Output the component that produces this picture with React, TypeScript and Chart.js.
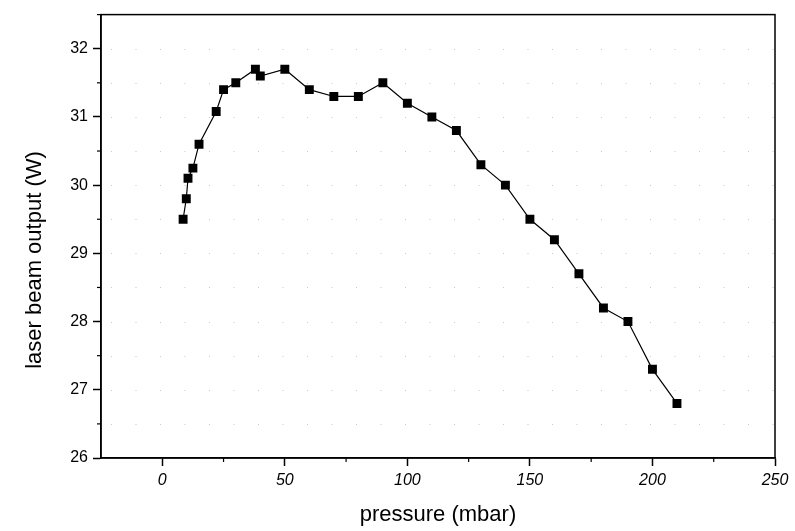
import React, { useEffect, useRef } from "react";
import { Chart, registerables } from "chart.js";

Chart.register(...registerables);

const pressure = [8.5, 9.8, 10.5, 12.5, 15, 22, 25, 30, 38, 40, 50, 60, 70, 80, 90, 100, 110, 120, 130, 140, 150, 160, 170, 180, 190, 200, 210];
const output = [29.5, 29.8, 30.1, 30.25, 30.6, 31.08, 31.4, 31.5, 31.7, 31.6, 31.7, 31.4, 31.3, 31.3, 31.5, 31.2, 31.0, 30.8, 30.3, 30.0, 29.5, 29.2, 28.7, 28.2, 28.0, 27.3, 26.8];
const xTicks = [0, 50, 100, 150, 200, 250];
const yTicks = [26, 27, 28, 29, 30, 31, 32];
const xMinor = [25, 75, 125, 175, 225];
const yMinor = [26.5, 27.5, 28.5, 29.5, 30.5, 31.5, 32.5];
const yGrid = [26.5, 27, 27.5, 28, 28.5, 29, 29.5, 30, 30.5, 31, 31.5, 32];
const xTitle = "pressure (mbar)";
const yTitle = "laser beam output (W)";

const FONT = "'Liberation Sans', Arial, sans-serif";

const framePlugin = {
  id: "frame",
  beforeDatasetsDraw(chart: any) {
    const { ctx, chartArea: a, scales } = chart;
    const y = scales.y;
    ctx.save();
    ctx.strokeStyle = "rgba(0,0,0,0.22)";
    ctx.lineWidth = 1;
    ctx.setLineDash([1, 23.5]);
    for (const v of yGrid) {
      const py = Math.round(y.getPixelForValue(v)) + 0.5;
      ctx.beginPath();
      ctx.moveTo(a.left + 10, py);
      ctx.lineTo(a.right, py);
      ctx.stroke();
    }
    ctx.restore();
  },
  afterDraw(chart: any) {
    const { ctx, chartArea: a, scales } = chart;
    const x = scales.x, y = scales.y;
    ctx.save();
    ctx.strokeStyle = "#000";
    ctx.lineWidth = 1.5;
    ctx.setLineDash([]);
    ctx.strokeRect(a.left, a.top, a.right - a.left, a.bottom - a.top);
    ctx.lineWidth = 1.2;
    for (const v of xMinor) {
      const px = x.getPixelForValue(v);
      ctx.beginPath();
      ctx.moveTo(px, a.bottom);
      ctx.lineTo(px, a.bottom + 4);
      ctx.stroke();
    }
    for (const v of yMinor) {
      const py = y.getPixelForValue(v);
      ctx.beginPath();
      ctx.moveTo(a.left, py);
      ctx.lineTo(a.left - 4, py);
      ctx.stroke();
    }
    ctx.fillStyle = "#000";
    ctx.font = `22px ${FONT}`;
    ctx.textAlign = "center";
    ctx.textBaseline = "middle";
    ctx.fillText(xTitle, (a.left + a.right) / 2, 515);
    ctx.translate(35, 260);
    ctx.rotate(-Math.PI / 2);
    ctx.fillText(yTitle, 0, 0);
    ctx.restore();
  },
};

export default function App() {
  const ref = useRef<HTMLCanvasElement | null>(null);
  useEffect(() => {
    document.body.style.margin = "0";
    const canvas = ref.current!;
    const chart = new Chart(canvas, {
      type: "scatter",
      data: {
        datasets: [
          {
            data: pressure.map((p, i) => ({ x: p, y: output[i] })),
            showLine: true,
            borderColor: "#000",
            borderWidth: 1.2,
            backgroundColor: "#000",
            pointStyle: "rect",
            pointRadius: 6.3,
            pointBorderWidth: 0,
          },
        ],
      },
      options: {
        animation: false,
        responsive: false,
        devicePixelRatio: 1,
        layout: { padding: { left: 0, top: 14, right: 20, bottom: 0 } },
        plugins: { legend: { display: false }, tooltip: { enabled: false } },
        scales: {
          x: {
            type: "linear",
            min: -25,
            max: 250,
            afterBuildTicks: (s: any) => {
              s.ticks = xTicks.map((v) => ({ value: v }));
            },
            afterFit: (s: any) => {
              s.height = 73;
            },
            ticks: {
              color: "#000",
              padding: 5,
              font: { family: FONT, size: 16, style: "italic" },
              maxRotation: 0,
            },
            grid: { drawOnChartArea: false, drawTicks: true, tickLength: 8, tickColor: "#000", tickWidth: 1.5 },
            border: { display: true, color: "#000", width: 1.5 },
          },
          y: {
            type: "linear",
            min: 26,
            max: 32.5,
            afterBuildTicks: (s: any) => {
              s.ticks = yTicks.map((v) => ({ value: v }));
            },
            afterFit: (s: any) => {
              s.width = 101;
            },
            ticks: {
              color: "#000",
              padding: 5,
              font: { family: FONT, size: 16 },
            },
            grid: { drawOnChartArea: false, drawTicks: true, tickLength: 8, tickColor: "#000", tickWidth: 1.5 },
            border: { display: true, color: "#000", width: 1.5 },
          },
        },
      },
      plugins: [framePlugin],
    } as any);
    return () => chart.destroy();
  }, []);
  return (
    <div style={{ position: "fixed", left: 0, top: 0, width: 795, height: 531, background: "#fff" }}>
      <canvas ref={ref} width={795} height={531} />
    </div>
  );
}
